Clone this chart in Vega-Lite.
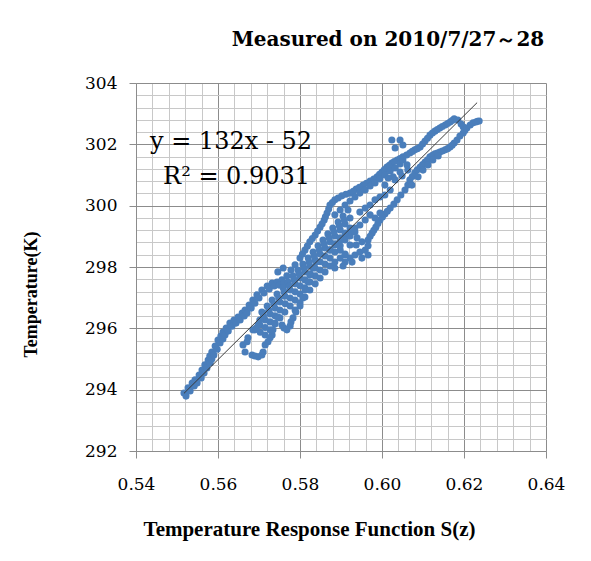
{
 "$schema": "https://vega.github.io/schema/vega-lite/v6.json",
 "width": 410, "height": 368,
 "autosize": {"type": "none"},
 "padding": {"left": 136, "top": 83, "right": 45, "bottom": 110},
 "background": "white",
 "title": {"text": "Measured on 2010/7/27～28", "font": "DejaVu Serif", "fontSize": 20, "fontWeight": "bold", "color": "#000", "anchor": "middle", "frame": "group", "dx": 47, "offset": 24},
 "datasets": {
  "pts": [
   {"x":0.5517,"y":293.89},{"x":0.5527,"y":294.06},{"x":0.5537,"y":294.22},{"x":0.5544,"y":294.32},{"x":0.5554,"y":294.48},{"x":0.5561,"y":294.64},{"x":0.5568,"y":294.81},{"x":0.5576,"y":294.97},{"x":0.5580,"y":295.10},{"x":0.5585,"y":295.23},{"x":0.5593,"y":295.42},{"x":0.5600,"y":295.62},{"x":0.5607,"y":295.75},{"x":0.5612,"y":295.88},{"x":0.5620,"y":296.01},{"x":0.5629,"y":296.17},{"x":0.5639,"y":296.27},{"x":0.5649,"y":296.37},{"x":0.5659,"y":296.50},{"x":0.5666,"y":296.60},{"x":0.5676,"y":296.76},{"x":0.5685,"y":296.92},{"x":0.5695,"y":297.09},{"x":0.5707,"y":297.25},{"x":0.5720,"y":297.38},{"x":0.5732,"y":297.48},{"x":0.5744,"y":297.51},{"x":0.5756,"y":297.58},{"x":0.5768,"y":297.71},{"x":0.5778,"y":297.90},{"x":0.5788,"y":298.07},{"x":0.5800,"y":298.29},{"x":0.5812,"y":298.55},{"x":0.5824,"y":298.82},{"x":0.5837,"y":299.04},{"x":0.5849,"y":299.30},{"x":0.5859,"y":299.53},{"x":0.5866,"y":299.76},{"x":0.5873,"y":300.02},{"x":0.5885,"y":300.19},{"x":0.5902,"y":300.32},{"x":0.5922,"y":300.41},{"x":0.5937,"y":300.54},{"x":0.5954,"y":300.67},{"x":0.5971,"y":300.80},{"x":0.5988,"y":300.94},{"x":0.6000,"y":301.10},{"x":0.6012,"y":301.26},{"x":0.6024,"y":301.39},{"x":0.6037,"y":301.49},{"x":0.6051,"y":301.59},{"x":0.6068,"y":301.72},{"x":0.6080,"y":301.82},{"x":0.6093,"y":301.91},{"x":0.6105,"y":302.11},{"x":0.6117,"y":302.30},{"x":0.6129,"y":302.43},{"x":0.6141,"y":302.53},{"x":0.6154,"y":302.63},{"x":0.6166,"y":302.73},{"x":0.6176,"y":302.83},{"x":0.6185,"y":302.79},{"x":0.6193,"y":302.66},{"x":0.6198,"y":302.57},
   {"x":0.5879,"y":300.10},{"x":0.5893,"y":300.25},{"x":0.5912,"y":300.37},{"x":0.5930,"y":300.47},{"x":0.5945,"y":300.60},{"x":0.5962,"y":300.73},{"x":0.5980,"y":300.87},{"x":0.5994,"y":301.02},{"x":0.6006,"y":301.18},{"x":0.6018,"y":301.32},{"x":0.6030,"y":301.44},{"x":0.6044,"y":301.54},{"x":0.6060,"y":301.65},{"x":0.6074,"y":301.77},{"x":0.6086,"y":301.86},{"x":0.6099,"y":302.01},{"x":0.6111,"y":302.20},{"x":0.6123,"y":302.37},{"x":0.6135,"y":302.48},{"x":0.6147,"y":302.58},{"x":0.6160,"y":302.68},{"x":0.6171,"y":302.78},
   {"x":0.5806,"y":298.42},{"x":0.5818,"y":298.68},{"x":0.5830,"y":298.93},{"x":0.5843,"y":299.17},{"x":0.5854,"y":299.41},{"x":0.5862,"y":299.64},{"x":0.5870,"y":299.89},
   {"x":0.5522,"y":293.79},{"x":0.5532,"y":293.96},{"x":0.5542,"y":294.12},{"x":0.5549,"y":294.22},{"x":0.5559,"y":294.38},{"x":0.5566,"y":294.54},{"x":0.5573,"y":294.71},{"x":0.5581,"y":294.87},{"x":0.5585,"y":295.00},{"x":0.5590,"y":295.13},{"x":0.5598,"y":295.32},{"x":0.5605,"y":295.52},{"x":0.5612,"y":295.65},{"x":0.5617,"y":295.78},{"x":0.5625,"y":295.91},{"x":0.5634,"y":296.07},{"x":0.5644,"y":296.17},{"x":0.5654,"y":296.27},{"x":0.5664,"y":296.40},{"x":0.5671,"y":296.50},{"x":0.5681,"y":296.66},{"x":0.5690,"y":296.82},{"x":0.5700,"y":296.99},{"x":0.5712,"y":297.15},{"x":0.5725,"y":297.28},{"x":0.5737,"y":297.38},{"x":0.5749,"y":297.41},{"x":0.5761,"y":297.48},
   {"x":0.5966,"y":298.88},{"x":0.5976,"y":299.11},{"x":0.5985,"y":299.30},{"x":0.5995,"y":299.53},{"x":0.6007,"y":299.73},{"x":0.6020,"y":299.92},{"x":0.6029,"y":300.05},{"x":0.6037,"y":300.19},{"x":0.6046,"y":300.35},{"x":0.6056,"y":300.51},{"x":0.6063,"y":300.67},{"x":0.6068,"y":300.84},{"x":0.6080,"y":301.07},{"x":0.6093,"y":301.26},{"x":0.6105,"y":301.42},{"x":0.6117,"y":301.59},{"x":0.6129,"y":301.69},{"x":0.6141,"y":301.75},{"x":0.6154,"y":301.82},{"x":0.6166,"y":301.91},{"x":0.6176,"y":302.04},{"x":0.6183,"y":302.14},{"x":0.6190,"y":302.27},{"x":0.6198,"y":302.37},{"x":0.6207,"y":302.53},{"x":0.6215,"y":302.63},{"x":0.6222,"y":302.70},{"x":0.6229,"y":302.73},{"x":0.6237,"y":302.76},
   {"x":0.5971,"y":299.00},{"x":0.5980,"y":299.20},{"x":0.5990,"y":299.42},{"x":0.6001,"y":299.63},{"x":0.6013,"y":299.82},{"x":0.6074,"y":300.95},{"x":0.6086,"y":301.17},{"x":0.6099,"y":301.34},{"x":0.6111,"y":301.50},{"x":0.6123,"y":301.64},{"x":0.6135,"y":301.72},{"x":0.6147,"y":301.78},{"x":0.6160,"y":301.86},{"x":0.6171,"y":301.97},{"x":0.6202,"y":302.45},{"x":0.6233,"y":302.75},
   {"x":0.6073,"y":300.67},{"x":0.6088,"y":300.94},{"x":0.6100,"y":301.16},{"x":0.6112,"y":301.33},{"x":0.6124,"y":301.49},{"x":0.6137,"y":301.62},
   {"x":0.5885,"y":299.70},{"x":0.5898,"y":299.86},{"x":0.5910,"y":300.02},{"x":0.5922,"y":300.15},{"x":0.5934,"y":300.28},{"x":0.5946,"y":300.41},{"x":0.5959,"y":300.51},{"x":0.5971,"y":300.64},{"x":0.5983,"y":300.74},{"x":0.5995,"y":300.87},{"x":0.6007,"y":301.00},{"x":0.6020,"y":301.13},{"x":0.6032,"y":301.23},{"x":0.6044,"y":301.36},{"x":0.6051,"y":301.49},{"x":0.6061,"y":301.33},{"x":0.6044,"y":301.10},{"x":0.6027,"y":300.94},{"x":0.6015,"y":300.90},{"x":0.6032,"y":300.84},{"x":0.6049,"y":300.97},{"x":0.6063,"y":301.16},{"x":0.6007,"y":300.67},
   {"x":0.5873,"y":298.55},{"x":0.5885,"y":298.72},{"x":0.5898,"y":298.88},{"x":0.5910,"y":299.01},{"x":0.5922,"y":299.14},{"x":0.5934,"y":299.27},{"x":0.5946,"y":299.37},{"x":0.5959,"y":299.53},{"x":0.5971,"y":299.70},{"x":0.5983,"y":299.60},{"x":0.5995,"y":299.76},
   {"x":0.5898,"y":298.55},{"x":0.5910,"y":298.39},{"x":0.5922,"y":298.29},{"x":0.5934,"y":298.39},{"x":0.5946,"y":298.49},{"x":0.5959,"y":298.55},{"x":0.5966,"y":298.39},{"x":0.5951,"y":298.29},{"x":0.5927,"y":298.16},{"x":0.5910,"y":298.16},{"x":0.5937,"y":298.72},{"x":0.5922,"y":298.72},{"x":0.5939,"y":298.95},{"x":0.5951,"y":298.82},{"x":0.5966,"y":298.69},{"x":0.5885,"y":297.97},{"x":0.5905,"y":298.03},
   {"x":0.5690,"y":295.95},{"x":0.5702,"y":296.11},{"x":0.5715,"y":296.27},{"x":0.5727,"y":296.47},{"x":0.5739,"y":296.66},{"x":0.5751,"y":296.86},{"x":0.5763,"y":297.05},{"x":0.5776,"y":297.25},{"x":0.5788,"y":297.45},{"x":0.5800,"y":297.64},{"x":0.5812,"y":297.84},{"x":0.5824,"y":298.03},{"x":0.5837,"y":298.23},{"x":0.5849,"y":298.42},{"x":0.5861,"y":298.62},{"x":0.5873,"y":298.82},{"x":0.5885,"y":299.01},{"x":0.5898,"y":299.21},{"x":0.5910,"y":299.40},{"x":0.5922,"y":299.60},
   {"x":0.5715,"y":295.78},{"x":0.5727,"y":295.95},{"x":0.5739,"y":296.14},{"x":0.5751,"y":296.34},{"x":0.5763,"y":296.53},{"x":0.5776,"y":296.73},{"x":0.5788,"y":296.92},{"x":0.5800,"y":297.12},{"x":0.5812,"y":297.32},{"x":0.5824,"y":297.51},{"x":0.5837,"y":297.71},{"x":0.5849,"y":297.90},{"x":0.5861,"y":298.10},{"x":0.5873,"y":298.29},{"x":0.5885,"y":298.49},{"x":0.5898,"y":298.69},{"x":0.5910,"y":298.88},{"x":0.5922,"y":299.01},{"x":0.5934,"y":299.14},
   {"x":0.5707,"y":296.53},{"x":0.5720,"y":296.73},{"x":0.5732,"y":296.92},{"x":0.5744,"y":297.12},{"x":0.5759,"y":297.32},{"x":0.5771,"y":297.51},{"x":0.5783,"y":297.71},{"x":0.5795,"y":297.90},{"x":0.5807,"y":298.10},{"x":0.5820,"y":298.29},{"x":0.5832,"y":298.49},{"x":0.5844,"y":298.69},{"x":0.5856,"y":298.88},{"x":0.5868,"y":299.08},{"x":0.5880,"y":299.27},{"x":0.5893,"y":299.47},{"x":0.5905,"y":299.66},{"x":0.5917,"y":299.86},
   {"x":0.5788,"y":296.60},{"x":0.5800,"y":296.83},{"x":0.5812,"y":297.02},{"x":0.5824,"y":297.25},{"x":0.5837,"y":297.45},{"x":0.5849,"y":297.64},{"x":0.5861,"y":297.84},{"x":0.5873,"y":298.03},{"x":0.5885,"y":298.16},{"x":0.5898,"y":298.29},{"x":0.5910,"y":298.42},
   {"x":0.5703,"y":295.87},{"x":0.5715,"y":296.03},{"x":0.5727,"y":296.21},{"x":0.5739,"y":296.41},{"x":0.5751,"y":296.60},{"x":0.5764,"y":296.80},{"x":0.5776,"y":296.99},{"x":0.5788,"y":297.19},{"x":0.5800,"y":297.39},{"x":0.5812,"y":297.58},{"x":0.5825,"y":297.78},{"x":0.5837,"y":297.97},{"x":0.5849,"y":298.17},{"x":0.5861,"y":298.36},{"x":0.5873,"y":298.56},{"x":0.5886,"y":298.76},{"x":0.5898,"y":298.95},{"x":0.5910,"y":299.11},{"x":0.5922,"y":299.27},
   {"x":0.5711,"y":296.40},{"x":0.5724,"y":296.60},{"x":0.5736,"y":296.79},{"x":0.5748,"y":296.99},{"x":0.5761,"y":297.19},{"x":0.5774,"y":297.38},{"x":0.5786,"y":297.58},{"x":0.5798,"y":297.77},{"x":0.5810,"y":297.97},{"x":0.5822,"y":298.16},{"x":0.5835,"y":298.36},{"x":0.5847,"y":298.56},{"x":0.5859,"y":298.75},{"x":0.5871,"y":298.95},{"x":0.5883,"y":299.14},{"x":0.5896,"y":299.34},{"x":0.5908,"y":299.53},
   {"x":0.5710,"y":296.50},{"x":0.5698,"y":296.11},{"x":0.5685,"y":295.95},{"x":0.5673,"y":295.69},{"x":0.5661,"y":295.46},{"x":0.5666,"y":295.23},{"x":0.5683,"y":295.13},{"x":0.5698,"y":295.07},{"x":0.5710,"y":295.23},{"x":0.5715,"y":295.46},{"x":0.5722,"y":295.56},{"x":0.5732,"y":295.78},{"x":0.5734,"y":295.95},{"x":0.5739,"y":296.17},{"x":0.5746,"y":296.37},
   {"x":0.5671,"y":295.56},{"x":0.5690,"y":295.10},{"x":0.5707,"y":295.13},{"x":0.5727,"y":295.69},{"x":0.5693,"y":296.01},{"x":0.5702,"y":296.27},
   {"x":0.5761,"y":296.01},{"x":0.5768,"y":295.95},{"x":0.5776,"y":296.08},{"x":0.5783,"y":296.34},{"x":0.5790,"y":296.53},{"x":0.5800,"y":296.73},{"x":0.5807,"y":296.99},{"x":0.5812,"y":297.25},{"x":0.5820,"y":297.51},{"x":0.5824,"y":297.74},{"x":0.5832,"y":297.97},{"x":0.5839,"y":298.16},{"x":0.5756,"y":296.11},{"x":0.5778,"y":296.21},
   {"x":0.6044,"y":302.14},{"x":0.6051,"y":301.98},{"x":0.6032,"y":301.88},{"x":0.6024,"y":302.14},
   {"x":0.6007,"y":300.35},{"x":0.6020,"y":300.51},{"x":0.5995,"y":300.28},{"x":0.5983,"y":300.19},{"x":0.5971,"y":300.02},{"x":0.5959,"y":299.92},{"x":0.5946,"y":299.79},{"x":0.5746,"y":297.84},{"x":0.5759,"y":297.97}
  ],
  "fit": [{"x":0.5517,"y":293.88},{"x":0.6232,"y":303.36}],
  "ann": [{"x":0.5434,"y":301.85,"t":"y = 132x - 52"},{"x":0.5466,"y":300.71,"t":"R² = 0.9031"}]
 },
 "layer": [
  {
   "data": {"name": "pts"},
   "mark": {"type": "point", "filled": true, "shape": "circle", "size": 50, "color": "#4a7ebb", "opacity": 1},
   "encoding": {
    "x": {"field": "x", "type": "quantitative", "scale": {"domain": [0.54, 0.64], "nice": false, "zero": false},
     "axis": {
      "values": [0.54,0.544,0.548,0.552,0.556,0.56,0.564,0.568,0.572,0.576,0.58,0.584,0.588,0.592,0.596,0.6,0.604,0.608,0.612,0.616,0.62,0.624,0.628,0.632,0.636,0.64],
      "tickCount": 1000,
      "title": "Temperature Response Function S(z)",
      "titleFont": "Liberation Serif", "titleFontSize": 21, "titleFontWeight": "bold", "titleColor": "#000",
      "titleX": 173, "titleY": 84, "titleBaseline": "alphabetic", "titleAlign": "center",
      "labelExpr": "abs(datum.value*50-round(datum.value*50))<0.01 ? format(datum.value,'.2f') : ''",
      "labelFont": "DejaVu Serif", "labelFontSize": 17, "labelColor": "#000", "labelPadding": 18, "labelFlush": false, "labelOverlap": false, "labelBound": false,
      "grid": true,
      "gridColor": {"condition": {"test": "abs(datum.value*50-round(datum.value*50))<0.01", "value": "#8c8c8c"}, "value": "#c8c8c8"},
      "tickSize": 7,
      "tickColor": {"condition": {"test": "abs(datum.value*50-round(datum.value*50))<0.01", "value": "#8c8c8c"}, "value": "rgba(0,0,0,0)"},
      "domainColor": "#8c8c8c"
     }
    },
    "y": {"field": "y", "type": "quantitative", "scale": {"domain": [292, 304], "nice": false, "zero": false},
     "axis": {
      "values": [292,292.4,292.8,293.2,293.6,294,294.4,294.8,295.2,295.6,296,296.4,296.8,297.2,297.6,298,298.4,298.8,299.2,299.6,300,300.4,300.8,301.2,301.6,302,302.4,302.8,303.2,303.6,304],
      "tickCount": 1000,
      "title": "Temperature(K)",
      "titleFont": "Liberation Serif", "titleFontSize": 18, "titleFontWeight": "bold", "titleColor": "#000",
      "titleAngle": -90, "titleX": -105, "titleY": 211, "titleBaseline": "middle", "titleAlign": "center",
      "labelExpr": "abs(datum.value/2-round(datum.value/2))<0.01 ? format(datum.value,'d') : ''",
      "labelFont": "DejaVu Serif", "labelFontSize": 17, "labelColor": "#000", "labelPadding": 12, "labelFlush": false, "labelOverlap": false, "labelBound": false,
      "grid": true,
      "gridColor": {"condition": {"test": "abs(datum.value/2-round(datum.value/2))<0.01", "value": "#8c8c8c"}, "value": "#c8c8c8"},
      "tickSize": 7,
      "tickColor": {"condition": {"test": "abs(datum.value/2-round(datum.value/2))<0.01", "value": "#8c8c8c"}, "value": "rgba(0,0,0,0)"},
      "domainColor": "#8c8c8c"
     }
    }
   }
  },
  {
   "data": {"name": "fit"},
   "mark": {"type": "line", "color": "#3a3a3a", "strokeWidth": 1},
   "encoding": {
    "x": {"field": "x", "type": "quantitative"},
    "y": {"field": "y", "type": "quantitative"}
   }
  },
  {
   "data": {"name": "ann"},
   "mark": {"type": "text", "align": "left", "baseline": "alphabetic", "font": "DejaVu Serif", "fontSize": 24, "color": "#000"},
   "encoding": {
    "x": {"field": "x", "type": "quantitative"},
    "y": {"field": "y", "type": "quantitative"},
    "text": {"field": "t"}
   }
  }
 ],
 "config": {"view": {"stroke": null}}
}
